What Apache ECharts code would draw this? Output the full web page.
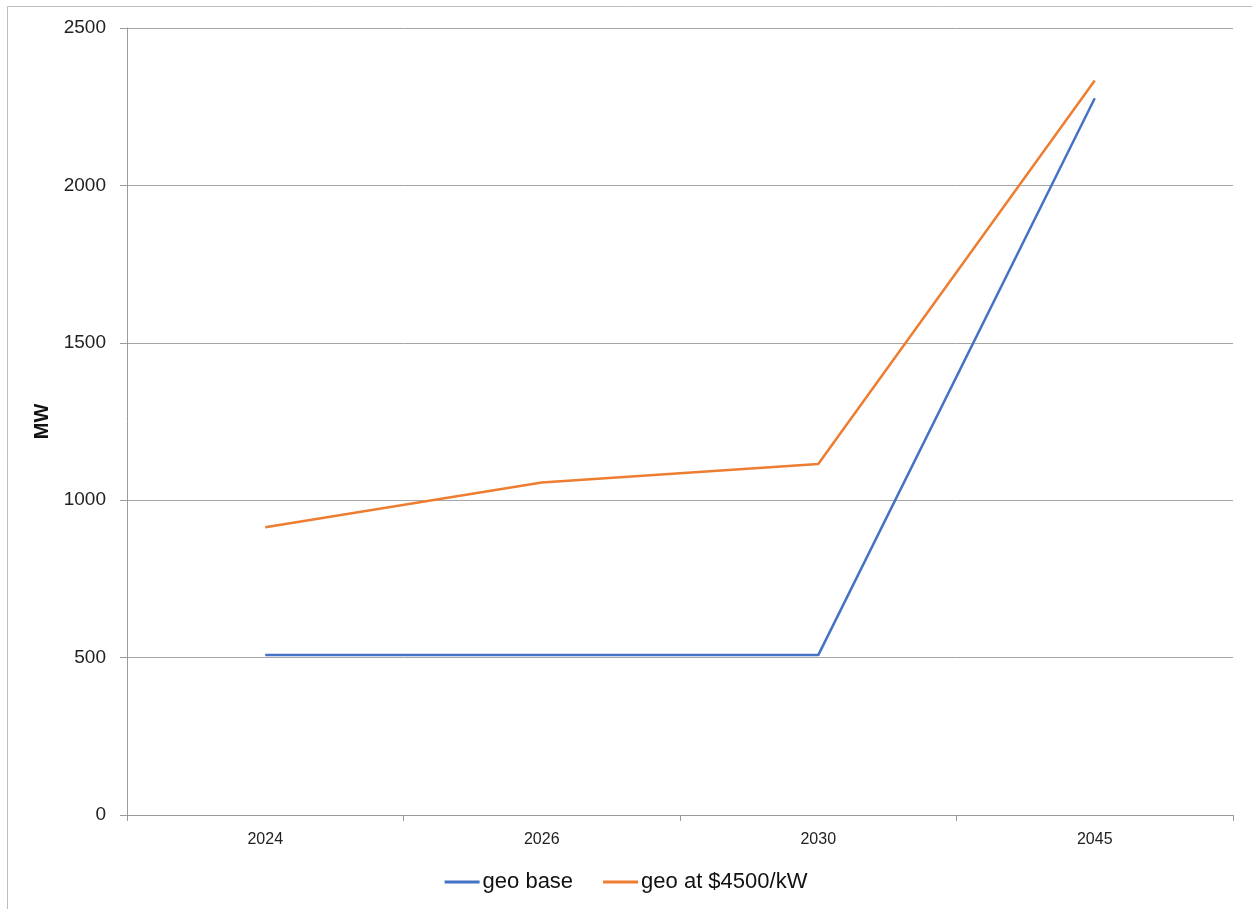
<!DOCTYPE html>
<html>
<head>
<meta charset="utf-8">
<script src="https://cdn.jsdelivr.net/npm/echarts@6/dist/echarts.min.js"></script>
<style>html,body{margin:0;padding:0;background:#fff;}#c{width:1252px;height:909px;}</style>
</head>
<body>
<div id="c"></div>
<script>
var categories = ['2024', '2026', '2030', '2045'];
var geoBase = [508, 508, 508, 2277];
var geoAt4500 = [914, 1056, 1115, 2333];
var yTicks = [0, 500, 1000, 1500, 2000, 2500];

var chart = echarts.init(document.getElementById('c'));
var font = '"Liberation Sans", Arial, sans-serif';
chart.setOption({
  animation: false,
  backgroundColor: '#fff',
  textStyle: { fontFamily: font },
  graphic: [{
    type: 'rect', shape: { x: 7.5, y: 6.5, width: 1300, height: 1000 },
    style: { fill: 'none', stroke: '#bdbdbd', lineWidth: 1 }, silent: true
  }],
  grid: { left: 127, right: 19, top: 28, bottom: 94, containLabel: false },
  legend: {
    bottom: 11, left: 'center',
    itemWidth: 35, itemHeight: 3, itemGap: 30,
    icon: 'rect',
    textStyle: { fontSize: 22, color: '#111', fontFamily: font, padding: [0, 0, 0, -2] },
    data: ['geo base', 'geo at $4500/kW']
  },
  xAxis: {
    type: 'category', data: categories, boundaryGap: true,
    axisLine: { lineStyle: { color: '#9a9a9a', width: 1 } },
    axisTick: { show: true, length: 6, lineStyle: { color: '#9a9a9a' } },
    axisLabel: { fontSize: 16, color: '#222', margin: 17 },
    splitLine: { show: false }
  },
  yAxis: {
    type: 'value', min: yTicks[0], max: yTicks[yTicks.length - 1], interval: yTicks[1] - yTicks[0],
    name: 'MW', nameLocation: 'middle', nameGap: 69, nameRotate: 90,
    nameTextStyle: { fontSize: 20, fontWeight: 'bold', color: '#111' },
    axisLine: { show: true, lineStyle: { color: '#9a9a9a', width: 1 } },
    axisTick: { show: true, length: 7, lineStyle: { color: '#9a9a9a' } },
    axisLabel: { fontSize: 19, color: '#222', margin: 21, formatter: function (v) { return String(v); } },
    splitLine: { show: true, lineStyle: { color: '#a6a6a6', width: 1 } }
  },
  series: [{
    name: 'geo base', type: 'line', data: geoBase, showSymbol: false, symbol: 'none',
    lineStyle: { color: '#4472C4', width: 2.5 }, itemStyle: { color: '#4472C4' }
  }, {
    name: 'geo at $4500/kW', type: 'line', data: geoAt4500, showSymbol: false, symbol: 'none',
    lineStyle: { color: '#ED7D31', width: 2.5 }, itemStyle: { color: '#ED7D31' }
  }]
});
</script>
</body>
</html>
